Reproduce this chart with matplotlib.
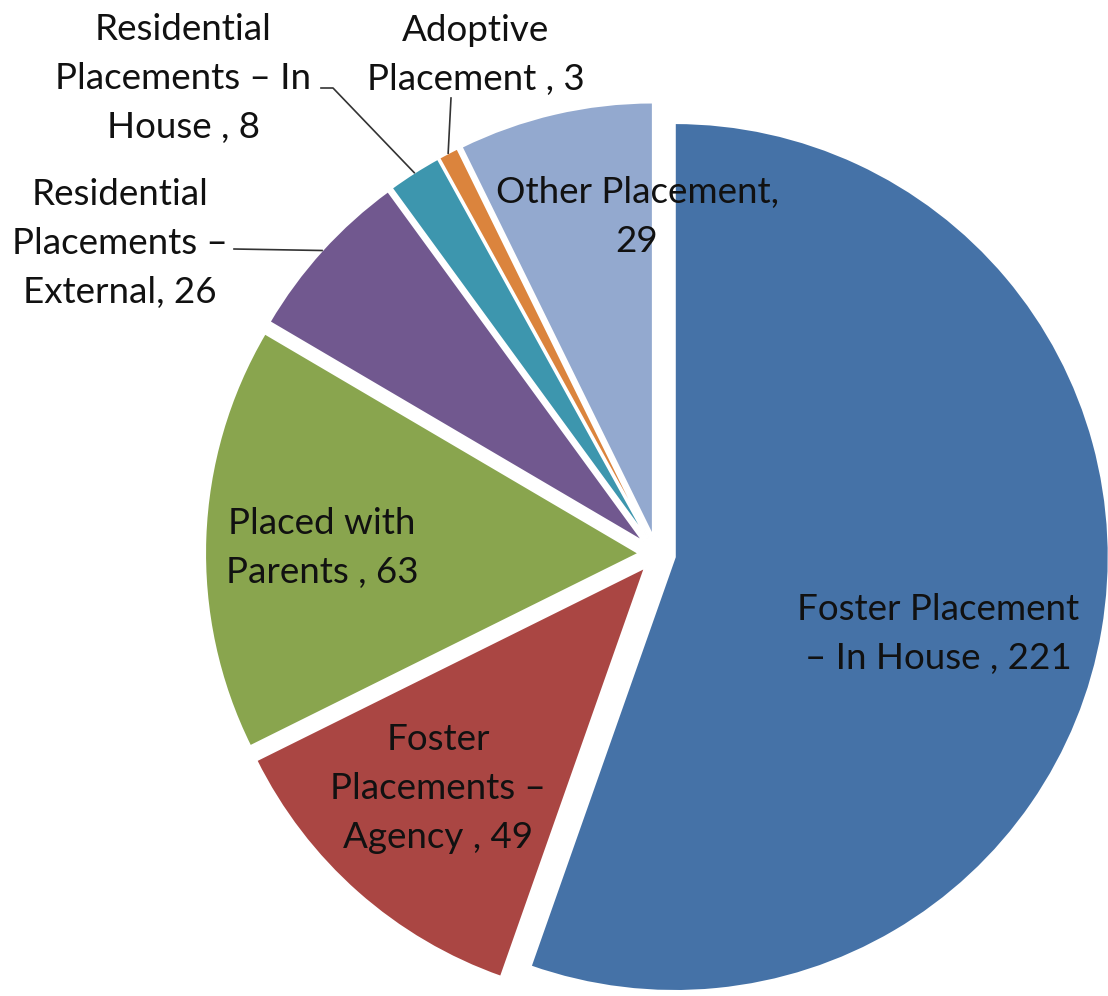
import math
import matplotlib
matplotlib.use("Agg")
import matplotlib.pyplot as plt

# ---- data ----
categories = [
    "Foster Placement\n– In House , 221",
    "Foster\nPlacements –\nAgency , 49",
    "Placed with\nParents , 63",
    "Residential\nPlacements –\nExternal, 26",
    "Residential\nPlacements – In\nHouse , 8",
    "Adoptive\nPlacement , 3",
    "Other Placement,\n29",
]
values = [221, 49, 63, 26, 8, 3, 29]
colors = ["#4572A7", "#AA4643", "#89A54E", "#71588F", "#3D96AE", "#DB843D", "#93A9CF"]

W, H = 1108, 996
R_PX = 434.0
CX, CY = 657.0, 554.0  # pie centre in pixel coords (y down)


def px(x, y):
    """pixel (y down) -> data units where the pie radius is 1"""
    return (x - CX) / R_PX, (CY - y) / R_PX


plt.rcParams["font.family"] = ["Lato", "DejaVu Sans"]
fig = plt.figure(figsize=(W / 100, H / 100), dpi=100)
ax = fig.add_axes([0, 0, 1, 1])

explode = [18 / R_PX] * len(values)
wedges, _ = ax.pie(values, colors=colors, startangle=90, counterclock=False,
                   explode=explode, radius=1, center=(0, 0),
                   wedgeprops=dict(edgecolor="white", linewidth=1.5))

ax.set_xlim(-CX / R_PX, (W - CX) / R_PX)
ax.set_ylim(-(H - CY) / R_PX, CY / R_PX)
ax.set_aspect("equal")
ax.axis("off")

# label positions: (centre x, last-line baseline y) in pixels
label_pos = [(938, 669), (438, 848), (322, 583), (120, 303),
             (183, 138), (476, 90), (637, 252)]
fs = 26.5
for lab, (lx, ly) in zip(categories, label_pos):
    x, y = px(lx, ly)
    ax.text(x, y, lab, ha="center", va="baseline", fontsize=fs,
            color="#111111", linespacing=1.59, zorder=5)


def arc_mid(w):
    tm = math.radians(0.5 * (w.theta1 + w.theta2))
    cx, cy = w.center
    return cx + w.r * math.cos(tm), cy + w.r * math.sin(tm)

# leader lines for outside labels
leaders = {
    3: [(234, 249)],
    4: [(333, 88), (321, 88)],
    5: [(451, 98)],
}
for i, pts in leaders.items():
    sx, sy = arc_mid(wedges[i])
    xs = [sx] + [px(*p)[0] for p in pts]
    ys = [sy] + [px(*p)[1] for p in pts]
    ax.plot(xs, ys, color="#333333", linewidth=1.2, zorder=4)

fig.savefig("out.png", dpi=100, facecolor="white")
